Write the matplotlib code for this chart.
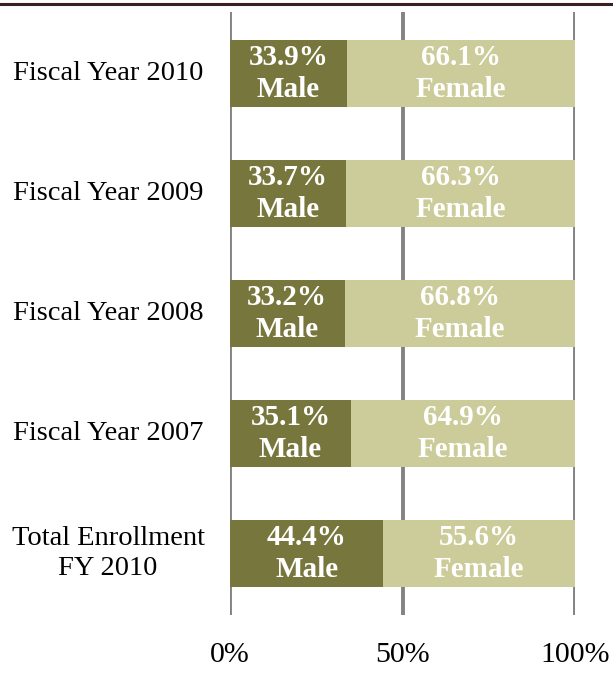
import matplotlib.pyplot as plt
import matplotlib.transforms as mtransforms
import numpy as np

plt.rcParams['font.family'] = ['Liberation Serif', 'DejaVu Serif']

categories = ["Fiscal Year 2010", "Fiscal Year 2009", "Fiscal Year 2008",
              "Fiscal Year 2007", "Total Enrollment\nFY 2010"]
male = [33.9, 33.7, 33.2, 35.1, 44.4]
female = [66.1, 66.3, 66.8, 64.9, 55.6]
ticks = [0, 50, 100]
tick_labels = ["0%", "50%", "100%"]

male_color = "#77763c"
female_color = "#cccb9a"

W, H = 613, 673
fig = plt.figure(figsize=(W / 100, H / 100), dpi=100)
fig.set_facecolor("white")

# axes box: x 230..575 px, y 12..615 px (from top)
ax = fig.add_axes([230 / W, 1 - 615 / H, (575 - 230) / W, (615 - 12) / H])
ax.set_xlim(0, 100)
ypos = np.arange(len(categories))[::-1]
ax.set_ylim(-0.5125, 4.5125)

for t in ticks:
    ax.axvline(t, color="#838383", linewidth=2.8, zorder=1)

ax.barh(ypos, male, height=0.56, color=male_color, zorder=2)
ax.barh(ypos, female, left=male, height=0.56, color=female_color, zorder=2)

for y, m, f in zip(ypos, male, female):
    ax.text(m / 2, y, f"{m:.1f}%\nMale", ha="center", va="center", color="white",
            fontsize=21, fontweight="bold", linespacing=1.28, zorder=3)
    ax.text(m + f / 2, y, f"{f:.1f}%\nFemale", ha="center", va="center", color="white",
            fontsize=21, fontweight="bold", linespacing=1.28, zorder=3)

trans = mtransforms.blended_transform_factory(fig.transFigure, ax.transData)
for y, c in zip(ypos, categories):
    ax.text(108 / W, y, c, transform=trans, ha="center", va="center",
            fontsize=20.5, color="black", linespacing=1.3)

transx = mtransforms.blended_transform_factory(ax.transData, fig.transFigure)
for t, lab in zip(ticks, tick_labels):
    ax.text(t, 1 - 655 / H, lab, transform=transx, ha="center", va="center",
            fontsize=21.5, color="black")

ax.set_xticks([])
ax.set_yticks([])
for s in ax.spines.values():
    s.set_visible(False)
ax.patch.set_alpha(0)

# top rule
fig.add_artist(plt.Line2D([0, 1], [1 - 4 / H, 1 - 4 / H], transform=fig.transFigure,
                          color="#3b1e1e", linewidth=2.2))

plt.savefig("out.png", dpi=100)
